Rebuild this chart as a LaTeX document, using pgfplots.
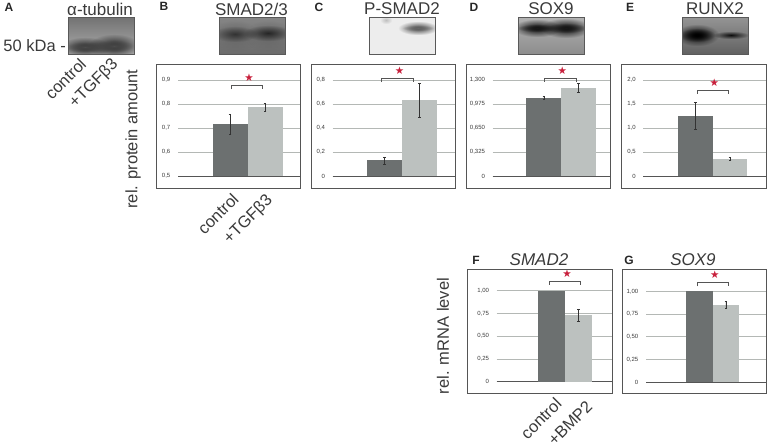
\documentclass[border=0pt]{standalone}
\usepackage{fontspec}
\setmainfont{Liberation Sans}
\newfontfamily\symfont{DejaVu Sans}
\usepackage{pgfplots}
\pgfplotsset{compat=1.18}
\usetikzlibrary{fadings}

\definecolor{ctrl}{HTML}{6C7070}
\definecolor{treat}{HTML}{BCC1BF}
\definecolor{gridc}{HTML}{B4B8B5}
\definecolor{framec}{HTML}{555555}
\definecolor{starc}{HTML}{C8203C}
\definecolor{txt}{HTML}{3A3A3A}

\tikzfading[name=band, inner color=transparent!0, outer color=transparent!100]

\pgfplotsset{
    panel/.style={
        scale only axis,
        anchor=south west,
        clip=false,
        axis x line=bottom,
        axis y line=left,
        x axis line style={-, draw=framec, line width=0.7pt},
        y axis line style={draw=none},
        xtick=\empty,
        ymajorgrids=true,
        grid style={gridc, line width=0.7pt},
        major tick length=0pt,
        yticklabel style={font=\fontsize{6}{6}\selectfont, text=txt, inner sep=0pt, xshift=-7.5pt},
    },
    barbase/.style={ybar, bar width=1, bar shift=0pt, draw=none,
        error bars/y dir=both, error bars/y explicit,
        error bars/error bar style={black!80, line width=0.6pt},
        error bars/error mark options={rotate=90, black!80, mark size=1.3pt, line width=0.6pt}},
    ctrlbar/.style={barbase, fill=ctrl},
    treatbar/.style={barbase, fill=treat},
    bracket/.style={sharp plot, no marks, framec, line width=0.7pt},
}
\newcommand{\sigstar}[2]{\node[text=starc, font=\symfont\fontsize{10.5}{10.5}\selectfont, inner sep=0pt] at (axis cs:#1,#2) {★};}
\newcommand{\blotband}[5]{\fill[#5, path fading=band] (#1-#3,#2-#4) rectangle (#1+#3,#2+#4);}

\begin{document}
\begin{tikzpicture}
\path[use as bounding box] (0pt,0pt) rectangle (770pt,-445pt);

% B
\begin{axis}[panel, at={(178pt,-176pt)}, width=122.5pt, height=111.5pt,
    xmin=-1.486, xmax=2.014, ymin=0.5, ymax=0.9646,
    ytick={0.5,0.6,0.7,0.8,0.9}, yticklabels={{0,5},{0,6},{0,7},{0,8},{0,9}}]
\addplot[ctrlbar] coordinates {(0,0.715) +- (0,0.043)};
\addplot[treatbar] coordinates {(1,0.7875) +- (0,0.0167)};
\addplot[bracket] coordinates {(0.05,0.862)(0.05,0.878)(0.934,0.878)(0.934,0.862)};
\sigstar{0.543}{0.911}
\end{axis}

% C
\begin{axis}[panel, at={(332.7pt,-176pt)}, width=122.3pt, height=111.5pt,
    xmin=-1.489, xmax=2.02, ymin=0, ymax=0.929,
    ytick={0,0.2,0.4,0.6,0.8}, yticklabels={0,{0,2},{0,4},{0,6},{0,8}}]
\addplot[ctrlbar] coordinates {(0,0.13) +- (0,0.03)};
\addplot[treatbar] coordinates {(1,0.63) +- (0,0.145)};
\addplot[bracket] coordinates {(-0.08,0.783)(-0.08,0.811)(0.83,0.811)(0.83,0.783)};
\sigstar{0.433}{0.875}
\end{axis}

% D
\begin{axis}[panel, at={(492.7pt,-176pt)}, width=117.3pt, height=111.5pt,
    xmin=-1.473, xmax=1.908, ymin=0, ymax=1.51,
    ytick={0,0.325,0.65,0.975,1.3}, yticklabels={0,{0,325},{0,650},{0,975},{1,300}}]
\addplot[ctrlbar] coordinates {(0,1.06) +- (0,0.025)};
\addplot[treatbar] coordinates {(1,1.19) +- (0,0.06)};
\addplot[bracket] coordinates {(0.014,1.277)(0.014,1.327)(0.937,1.327)(0.937,1.277)};
\sigstar{0.533}{1.431}
\end{axis}

% E
\begin{axis}[panel, at={(643.3pt,-176pt)}, width=122.7pt, height=111.5pt,
    xmin=-1.491, xmax=2.034, ymin=0, ymax=2.323,
    ytick={0,0.5,1,1.5,2}, yticklabels={0,{0,5},{1,0},{1,5},{2,0}}]
\addplot[ctrlbar] coordinates {(0,1.25) +- (0,0.277)};
\addplot[treatbar] coordinates {(1,0.354) +- (0,0.035)};
\addplot[bracket] coordinates {(0.06,1.715)(0.06,1.792)(0.951,1.792)(0.951,1.715)};
\sigstar{0.549}{1.944}
\end{axis}

% F
\begin{axis}[panel, at={(496.7pt,-381.7pt)}, width=115.3pt, height=112.7pt,
    xmin=-1.993, xmax=2.215, ymin=0, ymax=1.238,
    ytick={0,0.25,0.5,0.75,1}, yticklabels={0,{0,25},{0,50},{0,75},{1,00}}]
\addplot[ctrlbar, error bars/y dir=none] coordinates {(0,1)};
\addplot[treatbar] coordinates {(1,0.73) +- (0,0.066)};
\addplot[bracket] coordinates {(-0.073,1.063)(-0.073,1.103)(1.073,1.103)(1.073,1.063)};
\sigstar{0.573}{1.184}
\end{axis}

% G
\begin{axis}[panel, at={(646pt,-382.3pt)}, width=120pt, height=113.3pt,
    xmin=-2, xmax=2.511, ymin=0, ymax=1.245,
    ytick={0,0.25,0.5,0.75,1}, yticklabels={0,{0,25},{0,50},{0,75},{1,00}}]
\addplot[ctrlbar, error bars/y dir=none] coordinates {(0,1)};
\addplot[treatbar] coordinates {(1,0.853) +- (0,0.04)};
\addplot[bracket] coordinates {(-0.071,1.055)(-0.071,1.095)(1.109,1.095)(1.109,1.055)};
\sigstar{0.583}{1.179}
\end{axis}

\begin{scope}[x=1pt, y=-1pt]
% frames round the plots
\foreach \xa/\ya/\xb/\yb in {156.5/64.5/300.5/188, 311/64.5/455/188, 466/64.5/610/188,
    621/64.5/766/188, 467/269/612/393, 622/269/766/393}
    \draw[framec, line width=0.8pt] (\xa,\ya) rectangle (\xb,\yb);

% blots (no data in these, only the look of the gel pictures)
\begin{scope}
\clip (68,17.5) rectangle (134,54.5);
\shade[top color=black!55, bottom color=black!32] (68,17.5) rectangle (134,54.5);
\blotband{85}{47}{26}{10}{black!90}
\blotband{114}{46}{26}{12}{black!90}
\blotband{85}{47}{20}{5}{black!70}
\blotband{114}{46}{20}{6}{black!70}
\end{scope}
\begin{scope}
\clip (219.5,18) rectangle (285.5,54.5);
\shade[top color=black!48, bottom color=black!58] (219.5,18) rectangle (285.5,54.5);
\blotband{235}{36}{24}{16}{black!60}
\blotband{268}{36}{24}{16}{black!60}
\blotband{235}{34}{22}{8}{black!80}
\blotband{268}{33}{24}{8}{black!85}
\end{scope}
\begin{scope}
\clip (369,17.5) rectangle (435,54.5);
\fill[black!7] (369,17.5) rectangle (435,54.5);
\blotband{418}{28}{20}{7}{black!75}
\blotband{418}{28}{16}{3}{black!60}
\blotband{386}{20}{6}{4}{black!25}
\end{scope}
\begin{scope}
\clip (518,17.5) rectangle (584.5,54.5);
\shade[top color=black!30, bottom color=black!45] (518,17.5) rectangle (584.5,54.5);
\blotband{537}{28}{24}{9}{black}
\blotband{566}{28}{25}{10}{black}
\blotband{537}{28}{20}{4}{black!90}
\blotband{566}{28}{21}{5}{black!90}
\end{scope}
\begin{scope}
\clip (682,17.5) rectangle (748,54.5);
\shade[top color=black!42, bottom color=black!62] (682,17.5) rectangle (748,54.5);
\blotband{697}{35}{22}{11}{black}
\blotband{697}{35}{18}{7}{black}
\blotband{731}{35}{18}{4}{black!95}
\end{scope}
\foreach \xa/\xb in {68/134, 219.5/285.5, 369/435, 518/584.5, 682/748}
    \draw[black!65, line width=0.8pt] (\xa,17.5) rectangle (\xb,54.5);

% panel letters
\foreach \l/\xp/\yp in {A/9/7, B/164/6, C/319/7, D/474/7, E/630/7, F/476/260, G/629/260}
    \node[font=\fontsize{12}{12}\bfseries\selectfont, text=black!85, inner sep=0pt] at (\xp,\yp) {\l};

% blot and panel titles
\foreach \t/\xp in {α-tubulin/100, SMAD2\slash 3/251.5, P-SMAD2/402, SOX9/551, RUNX2/715}
    \node[font=\fontsize{17}{17}\selectfont, text=txt, inner sep=0pt] at (\xp,9) {\t};
\node[font=\fontsize{17}{17}\itshape\selectfont, text=txt, inner sep=0pt] at (539,260) {SMAD2};
\node[font=\fontsize{17}{17}\itshape\selectfont, text=txt, inner sep=0pt] at (693,260) {SOX9};

\node[font=\fontsize{16.5}{17}\selectfont, text=txt, inner sep=0pt, anchor=east] at (66,46) {50 kDa -};

% y titles
\node[font=\fontsize{16.5}{17}\selectfont, text=txt, inner sep=0pt, rotate=90] at (133,139) {rel. protein amount};
\node[font=\fontsize{16.5}{17}\selectfont, text=txt, inner sep=0pt, rotate=90] at (443,336) {rel. mRNA level};

% rotated group names
\foreach \t/\xp/\yp in {control/65.5/79, +TGFβ3/94/84, control/218/214, +TGFβ3/248.5/220, control/541/418.5, +BMP2/570/423}
    \node[font=\fontsize{16.5}{17}\selectfont, text=txt, inner sep=0pt, rotate=45] at (\xp,\yp) {\t};
\end{scope}
\end{tikzpicture}
\end{document}
